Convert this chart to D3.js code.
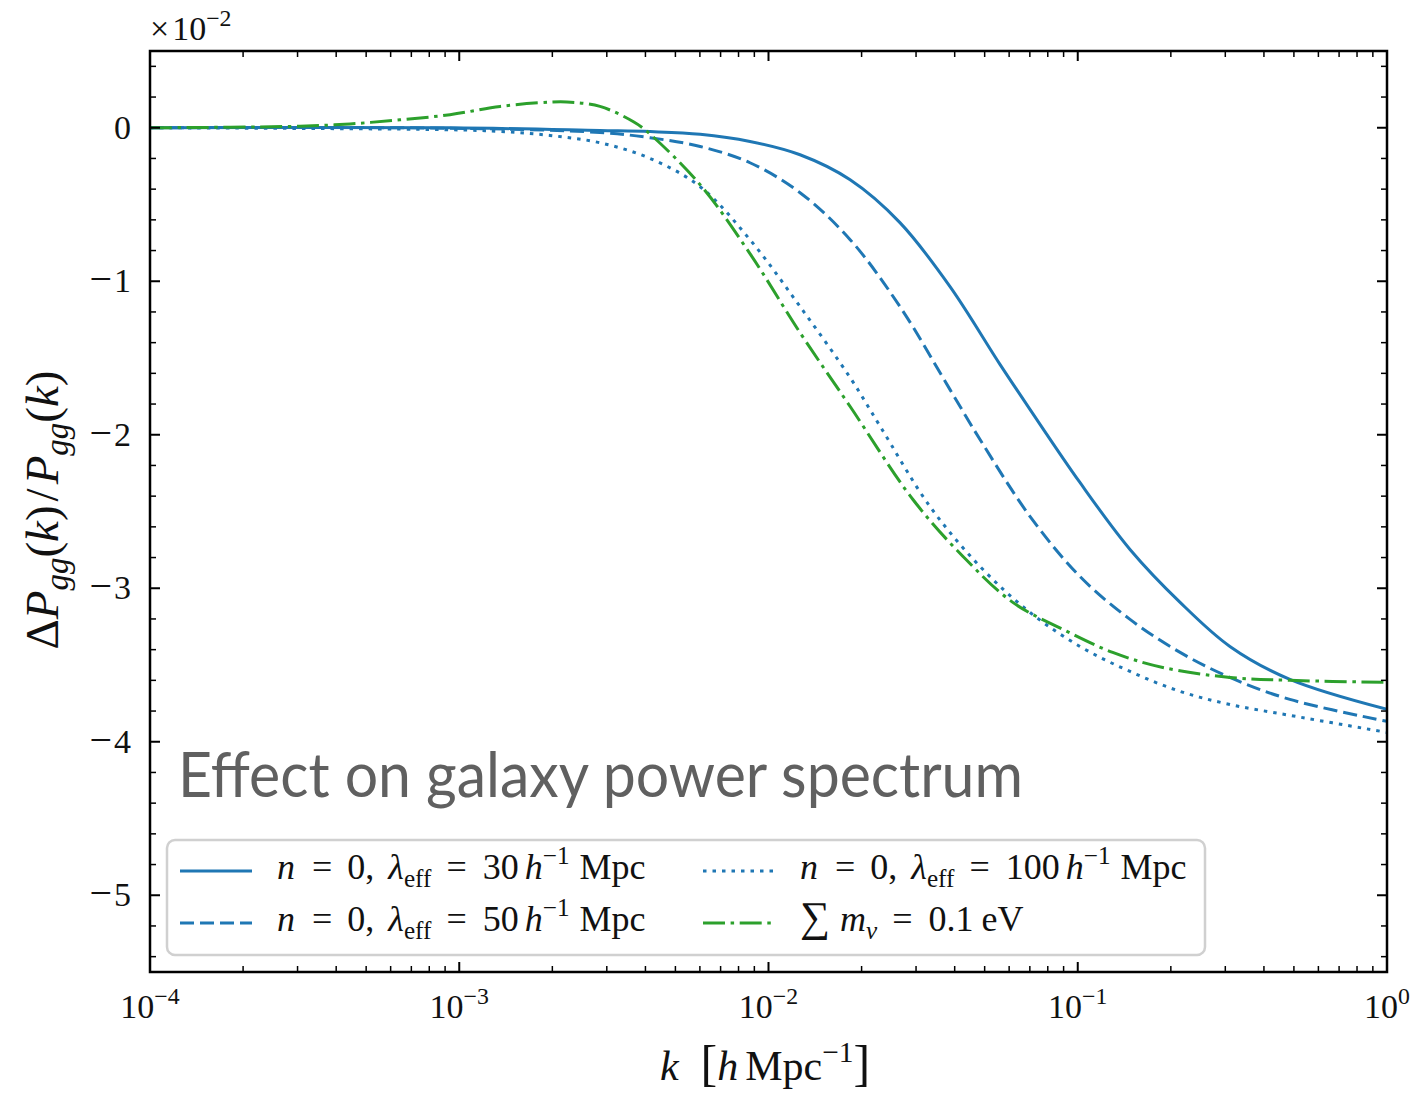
<!DOCTYPE html>
<html><head><meta charset="utf-8">
<script src="https://cdn.jsdelivr.net/npm/d3@7"></script>
<style>body{margin:0;background:#fff}</style>
</head><body>
<svg id="c" width="1411" height="1093"></svg>
<script>
// ---- data (log10 k, ΔP/P in units of 1e-2) ----
const lkSolid = [-4, -3.03, -2.545, -2.383, -2.221, -2.06, -1.898, -1.736, -1.575, -1.413, -1.251, -1.154, -0.993, -0.831, -0.669, -0.508, -0.314, 0];
const vSolid  = [0, 0, -0.018, -0.025, -0.042, -0.089, -0.176, -0.339, -0.618, -1.035, -1.543, -1.836, -2.311, -2.747, -3.092, -3.379, -3.594, -3.789];

const lkDashed = [-4, -3.03, -2.545, -2.383, -2.221, -2.06, -1.898, -1.736, -1.575, -1.413, -1.316, -1.154, -0.993, -0.831, -0.669, -0.508, -0.314, 0];
const vDashed  = [0, -0.003, -0.031, -0.065, -0.122, -0.228, -0.423, -0.729, -1.165, -1.706, -2.031, -2.533, -2.923, -3.203, -3.418, -3.581, -3.724, -3.867];

const lkDotted = [-4, -3.03, -2.868, -2.707, -2.545, -2.383, -2.221, -2.06, -1.898, -1.736, -1.639, -1.478, -1.316, -1.154, -0.993, -0.831, -0.669, -0.508, -0.314, 0];
const vDotted  = [0, -0.013, -0.024, -0.05, -0.098, -0.2, -0.384, -0.729, -1.165, -1.628, -1.945, -2.467, -2.858, -3.158, -3.379, -3.542, -3.672, -3.757, -3.828, -3.939];

const lkNu = [-4, -3.515, -3.353, -3.192, -3.03, -2.868, -2.707, -2.652, -2.545, -2.438, -2.393, -2.221, -2.06, -1.898, -1.736, -1.533, -1.371, -1.21, -1.048, -0.887, -0.725, -0.508, -0.314, 0];
const vNu  = [0, 0.01, 0.025, 0.052, 0.085, 0.139, 0.167, 0.168, 0.139, 0.041, -0.024, -0.371, -0.82, -1.335, -1.816, -2.422, -2.793, -3.092, -3.268, -3.418, -3.516, -3.581, -3.6, -3.613];

const yTicks = [0, -1, -2, -3, -4, -5];
const yTickSign = ["", "−", "−", "−", "−", "−"];
const yTickDigit = ["0", "1", "2", "3", "4", "5"];
const xTicks = [1e-4, 1e-3, 1e-2, 1e-1, 1];
const xTickExp = ["−4", "−3", "−2", "−1", "0"];

const seriesNames = ["λ30", "λ50", "λ100", "nu"];
const lambdaVals = ["30", "50", "100"];
const seriesColors = ["#1f77b4", "#1f77b4", "#1f77b4", "#2ca02c"];
const seriesDash = ["", "14,6", "3.5,6", "22,5.6,3.5,5.6"];

// ---- layout ----
const svg = d3.select("#c");
const L = 150, R = 1387, T = 51, B = 972;
const x = d3.scaleLog().domain([1e-4, 1]).range([L, R]);
const y = d3.scaleLinear().domain([-5.5, 0.5]).range([B, T]);
const serif = "'Liberation Serif', 'DejaVu Serif', serif";

svg.append("clipPath").attr("id", "clp").append("rect")
  .attr("x", L).attr("y", T).attr("width", R - L).attr("height", B - T);

const line = d3.line().x(d => x(Math.pow(10, d[0]))).y(d => y(d[1])).curve(d3.curveCatmullRom.alpha(0.5));
const allSeries = [
  d3.zip(lkSolid, vSolid), d3.zip(lkDashed, vDashed), d3.zip(lkDotted, vDotted), d3.zip(lkNu, vNu)
];
const gLines = svg.append("g").attr("clip-path", "url(#clp)");
allSeries.forEach((s, i) => {
  gLines.append("path").datum(s).attr("d", line)
    .attr("fill", "none").attr("stroke", seriesColors[i]).attr("stroke-width", 3)
    .attr("stroke-dasharray", seriesDash[i] || null);
});

// ---- title text ----
svg.append("text").attr("x", 178).attr("y", 797)
  .attr("font-family", "Lato, 'Open Sans', sans-serif").attr("font-size", 62)
  .attr("fill", "#606060").attr("textLength", 845).attr("lengthAdjust", "spacingAndGlyphs")
  .text("Effect on galaxy power spectrum");

// ---- math text helper: parts = [text, style, fontSize, dx] ----
function mtext(g, xx, yy, parts, size, anchor) {
  const t = g.append("text").attr("x", xx).attr("y", yy)
    .attr("font-family", serif).attr("font-size", size).attr("fill", "#111")
    .attr("text-anchor", anchor || "start");
  let cur = 0;
  parts.forEach(p => {
    const [txt, st, sz, dx] = p;
    const ts = t.append("tspan").text(txt);
    let shift = 0, fs = size;
    if (st && st.includes("i")) ts.attr("font-style", "italic");
    if (st && st.includes("^")) { shift = -0.42 * size; fs = size * 0.7; }
    if (st && st.includes("_")) { shift = 0.22 * size; fs = size * 0.7; }
    if (sz) fs = sz;
    ts.attr("font-size", fs).attr("dy", shift - cur);
    if (dx) ts.attr("dx", dx);
    cur = shift;
  });
  return t;
}

// ---- legend ----
const lg = svg.append("g");
lg.append("rect").attr("x", 167).attr("y", 840).attr("width", 1038).attr("height", 115)
  .attr("rx", 8).attr("fill", "#fff").attr("fill-opacity", 0.8)
  .attr("stroke", "#d0d0d0").attr("stroke-width", 2.5);
const legPos = [[180, 868], [180, 920], [703, 868], [703, 920]];
const lamLabel = v => [["n", "i"], ["=", "", 0, 17], ["0,", "", 0, 15], ["λ", "i", 0, 14], ["eff", "_"],
  ["=", "", 0, 15], [v, "", 0, 16], ["h", "i", 0, 6], ["−1", "^"], ["Mpc", "", 0, 10]];
const legLabels = [
  lamLabel(lambdaVals[0]), lamLabel(lambdaVals[1]), lamLabel(lambdaVals[2]),
  [["∑", "", 42], ["m", "i", 0, 10], ["ν", "i_"], ["=", "", 0, 15], ["0.1", "", 0, 16], ["eV", "", 0, 8]]
];
seriesNames.forEach((nm, i) => {
  const [lx, ly] = legPos[i];
  lg.append("line").attr("x1", lx).attr("x2", lx + 72).attr("y1", ly + 3).attr("y2", ly + 3)
    .attr("stroke", seriesColors[i]).attr("stroke-width", 3)
    .attr("stroke-dasharray", seriesDash[i] || null);
  mtext(lg, lx + 97, ly + 11, legLabels[i], 36);
});

// ---- frame & ticks ----
const ax = svg.append("g");
ax.append("rect").attr("x", L).attr("y", T).attr("width", R - L).attr("height", B - T)
  .attr("fill", "none").attr("stroke", "#000").attr("stroke-width", 2.5);

const minorY = d3.range(-5.4, 0.5, 0.2).map(v => Math.round(v * 10) / 10).filter(v => !yTicks.includes(v));
yTicks.forEach((v, i) => {
  const yy = y(v);
  ax.append("line").attr("x1", L).attr("x2", L + 10).attr("y1", yy).attr("y2", yy).attr("stroke", "#000").attr("stroke-width", 2);
  ax.append("line").attr("x1", R).attr("x2", R - 10).attr("y1", yy).attr("y2", yy).attr("stroke", "#000").attr("stroke-width", 2);
  const parts = yTickSign[i] ? [[yTickSign[i], "", 40], [yTickDigit[i], "", 0, 2]] : [[yTickDigit[i]]];
  mtext(ax, 131, yy + 11, parts, 34, "end");
});
minorY.forEach(v => {
  const yy = y(v);
  ax.append("line").attr("x1", L).attr("x2", L + 6).attr("y1", yy).attr("y2", yy).attr("stroke", "#000").attr("stroke-width", 1.5);
  ax.append("line").attr("x1", R).attr("x2", R - 6).attr("y1", yy).attr("y2", yy).attr("stroke", "#000").attr("stroke-width", 1.5);
});
xTicks.forEach((k, i) => {
  const xx = x(k);
  ax.append("line").attr("x1", xx).attr("x2", xx).attr("y1", B).attr("y2", B - 10).attr("stroke", "#000").attr("stroke-width", 2);
  ax.append("line").attr("x1", xx).attr("x2", xx).attr("y1", T).attr("y2", T + 10).attr("stroke", "#000").attr("stroke-width", 2);
  mtext(ax, xx, 1018, [["10"], [xTickExp[i], "^"]], 34, "middle");
});
for (let d = -4; d < 0; d++) {
  for (let m = 2; m <= 9; m++) {
    const xx = x(m * Math.pow(10, d));
    ax.append("line").attr("x1", xx).attr("x2", xx).attr("y1", B).attr("y2", B - 6).attr("stroke", "#000").attr("stroke-width", 1.5);
    ax.append("line").attr("x1", xx).attr("x2", xx).attr("y1", T).attr("y2", T + 6).attr("stroke", "#000").attr("stroke-width", 1.5);
  }
}

// offset label
mtext(svg, 150, 40, [["×"], ["10", "", 0, 3], ["−2", "^"]], 34);

// axis labels
mtext(svg, 765, 1080, [["k", "i"], ["[", "", 50, 22], ["h", "i"], ["Mpc", "", 0, 7], ["−1", "^"], ["]", "", 50]], 42, "middle");
const yl = svg.append("g").attr("transform", "translate(58,510) rotate(-90)");
mtext(yl, 0, 0, [["Δ"], ["P", "i"], ["gg", "i_"], ["("], ["k", "i"], [")"], ["/", "", 0, 4], ["P", "i", 0, 4], ["gg", "i_"], ["("], ["k", "i"], [")"]], 47, "middle");
</script>
</body></html>
